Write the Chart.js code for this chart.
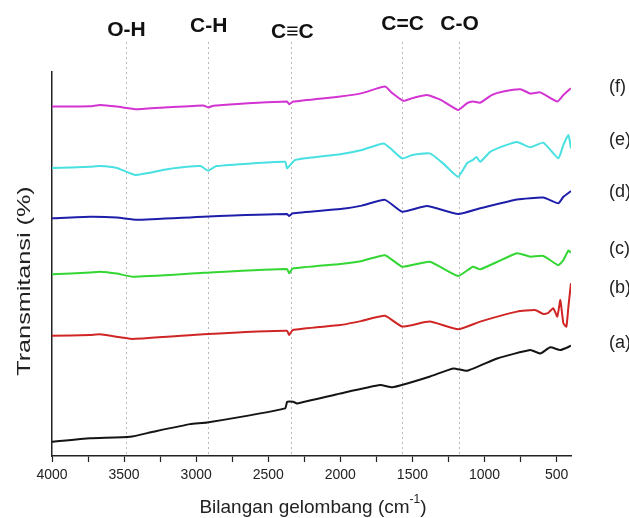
<!DOCTYPE html>
<html>
<head>
<meta charset="utf-8">
<script src="https://cdn.jsdelivr.net/npm/chart.js@4.4.1/dist/chart.umd.min.js"></script>
<style>
  html, body { margin: 0; padding: 0; background: #fff; }
  canvas { display: block; }
</style>
</head>
<body>
<canvas id="ftir" width="629" height="518"></canvas>
<script>
// FTIR spectra, wavenumber (cm-1) vs transmittance (arbitrary %, curves stacked)
const waveA = [4000, 3736, 3458, 3300, 3042, 2924, 2383, 2369, 2327, 2300, 2000, 1724, 1640, 1536, 1377, 1217, 1120, 912, 683, 613, 544, 474, 400];
const transA = [3.7, 4.6, 5.0, 6.3, 8.3, 8.7, 12.4, 14.1, 14.1, 13.7, 16.3, 18.5, 17.9, 18.9, 20.7, 22.8, 22.2, 25.4, 27.6, 26.7, 28.3, 27.6, 28.7];

const waveB = [4000, 3736, 3667, 3440, 2950, 2370, 2355, 2330, 2000, 1850, 1690, 1571, 1380, 1183, 1030, 774, 650, 592, 560, 523, 495, 474, 453, 432, 418, 400];
const transB = [31.3, 31.5, 31.7, 30.5, 31.7, 32.6, 31.5, 32.8, 34.1, 35.2, 36.5, 33.7, 35.0, 33.0, 35.0, 37.6, 38.0, 37.0, 37.2, 38.5, 36.3, 40.6, 34.6, 33.7, 38.9, 45.0];

const waveC = [4000, 3736, 3667, 3550, 3440, 2950, 2370, 2355, 2330, 2000, 1850, 1690, 1571, 1380, 1183, 1080, 1030, 774, 683, 592, 488, 453, 418, 400];
const transC = [47.3, 47.8, 48.0, 47.5, 46.7, 47.7, 48.7, 47.6, 48.8, 50.0, 50.8, 52.3, 49.3, 50.6, 46.9, 49.3, 48.6, 52.8, 51.9, 52.1, 49.7, 51.0, 53.5, 52.9];

const waveD = [4000, 3736, 3550, 3410, 2950, 2370, 2355, 2330, 2000, 1850, 1690, 1571, 1400, 1183, 1030, 774, 592, 488, 453, 400];
const transD = [61.9, 62.3, 62.1, 61.5, 62.3, 63.0, 62.5, 63.2, 64.3, 65.2, 66.7, 63.6, 65.1, 63.0, 64.5, 66.8, 67.3, 65.8, 67.5, 69.0];

const waveE = [4000, 3736, 3667, 3550, 3424, 3200, 2970, 2917, 2860, 2383, 2369, 2313, 2000, 1850, 1700, 1640, 1571, 1500, 1380, 1287, 1183, 1120, 1080, 1055, 1030, 961, 870, 774, 683, 592, 488, 453, 418, 400];
const transE = [75.0, 75.3, 75.5, 75.0, 73.2, 74.7, 75.5, 74.3, 75.5, 76.6, 74.9, 77.1, 78.6, 79.7, 81.4, 79.7, 77.5, 78.4, 78.8, 76.2, 72.7, 76.3, 77.1, 77.9, 76.6, 79.2, 80.7, 81.8, 80.4, 81.6, 77.5, 81.0, 83.6, 80.1];

const waveF = [4000, 3736, 3667, 3550, 3410, 3200, 2952, 2917, 2880, 2370, 2355, 2327, 2000, 1850, 1690, 1640, 1564, 1500, 1400, 1300, 1183, 1120, 1080, 1030, 950, 870, 752, 683, 613, 495, 453, 400];
const transF = [91.0, 91.1, 91.4, 91.0, 90.3, 90.8, 91.3, 90.8, 91.2, 92.3, 91.6, 92.3, 93.6, 94.5, 96.2, 94.5, 92.5, 93.2, 94.0, 92.7, 90.1, 91.9, 92.3, 92.0, 94.0, 94.9, 95.5, 94.4, 94.7, 92.3, 94.0, 95.8];

const sampleLabels = ['(a)', '(b)', '(c)', '(d)', '(e)', '(f)'];
const peakWaves = [3490, 2920, 2340, 1575, 1180];
const peakNames = ['O-H', 'C-H', 'C\u2261C', 'C=C', 'C-O'];
const xTickValues = [4000, 3750, 3500, 3250, 3000, 2750, 2500, 2250, 2000, 1750, 1500, 1250, 1000, 750, 500];

const waves = [waveA, waveB, waveC, waveD, waveE, waveF];
const trans = [transA, transB, transC, transD, transE, transF];
const lineColors = ['#141414', '#d02525', '#33d633', '#1e1eaa', '#48e0e0', '#d233d2'];
const FONT = '"Liberation Sans", Arial, sans-serif';

const datasets = sampleLabels.map((label, i) => ({
    label,
    data: waves[i].map((w, j) => ({ x: w, y: trans[i][j] })),
    borderColor: lineColors[i],
    borderWidth: 2,
    pointRadius: 0,
    tension: 0.15,
    fill: false
}));

// dotted peak markers, peak names, curve letters and axis titles
const annotate = {
    id: 'annotate',
    beforeDatasetsDraw(chart) {
        const ctx = chart.ctx;
        const x = chart.scales.x;
        ctx.save();
        ctx.strokeStyle = '#b8b8b8';
        ctx.lineWidth = 1;
        ctx.setLineDash([2, 3]);
        peakWaves.forEach(w => {
            const px = Math.round(x.getPixelForValue(w)) + 0.5;
            ctx.beginPath();
            ctx.moveTo(px, 42);
            ctx.lineTo(px, chart.chartArea.bottom);
            ctx.stroke();
        });
        ctx.restore();
    },
    afterDraw(chart) {
        const ctx = chart.ctx;
        const x = chart.scales.x;
        const y = chart.scales.y;
        ctx.save();
        ctx.fillStyle = '#111';
        ctx.textAlign = 'center';
        ctx.textBaseline = 'middle';
        ctx.font = 'bold 21px ' + FONT;
        const peakY = [30, 26, 32, 24, 24];
        peakNames.forEach((name, i) => {
            ctx.fillText(name, x.getPixelForValue(peakWaves[i]) + 1, peakY[i]);
        });

        ctx.fillStyle = '#222';
        ctx.textAlign = 'left';
        ctx.font = '18px ' + FONT;
        const nudge = [-3, 5, -4, 1, -8, -1];
        sampleLabels.forEach((label, i) => {
            const last = trans[i][trans[i].length - 1];
            ctx.fillText(label, 609, y.getPixelForValue(last) + nudge[i]);
        });

        // y title
        ctx.save();
        ctx.translate(25, 281);
        ctx.rotate(-Math.PI / 2);
        ctx.scale(1.4, 1);
        ctx.textAlign = 'center';
        ctx.font = '18px ' + FONT;
        ctx.fillText('Transmitansi (%)', 0, 0);
        ctx.restore();

        // x title with superscript
        const main = 'Bilangan gelombang (cm';
        const sup = '-1';
        ctx.font = '19px ' + FONT;
        const wMain = ctx.measureText(main).width;
        const wClose = ctx.measureText(')').width;
        ctx.font = '12px ' + FONT;
        const wSup = ctx.measureText(sup).width;
        let sx = 313 - (wMain + wSup + wClose) / 2;
        ctx.textAlign = 'left';
        ctx.font = '19px ' + FONT;
        ctx.fillText(main, sx, 508);
        sx += wMain;
        ctx.font = '12px ' + FONT;
        ctx.fillText(sup, sx, 500);
        sx += wSup;
        ctx.font = '19px ' + FONT;
        ctx.fillText(')', sx, 508);
        ctx.restore();
    }
};

new Chart(document.getElementById('ftir'), {
    type: 'line',
    data: { datasets },
    options: {
        responsive: false,
        animation: false,
        layout: { padding: { left: 52, right: 58, top: 72, bottom: 0 } },
        plugins: { legend: { display: false }, tooltip: { enabled: false } },
        scales: {
            x: {
                type: 'linear',
                reverse: true,
                min: 400,
                max: 4000,
                afterBuildTicks: s => { s.ticks = xTickValues.map(v => ({ value: v })); },
                afterFit: s => { s.height = 62; },
                ticks: {
                    autoSkip: false,
                    maxRotation: 0,
                    padding: 5,
                    color: '#222',
                    font: { size: 14, family: FONT },
                    callback: v => (v % 500 === 0 ? String(v) : '')
                },
                grid: { drawOnChartArea: false, drawTicks: true, tickLength: 6, color: '#222', tickWidth: 1.2 },
                border: { display: true, color: '#222', width: 1.5 }
            },
            y: {
                min: 0,
                max: 100,
                afterFit: s => { s.width = 0; },
                ticks: { display: false },
                grid: { display: false },
                border: { display: true, color: '#222', width: 1.5 }
            }
        }
    },
    plugins: [annotate]
});
</script>
</body>
</html>
